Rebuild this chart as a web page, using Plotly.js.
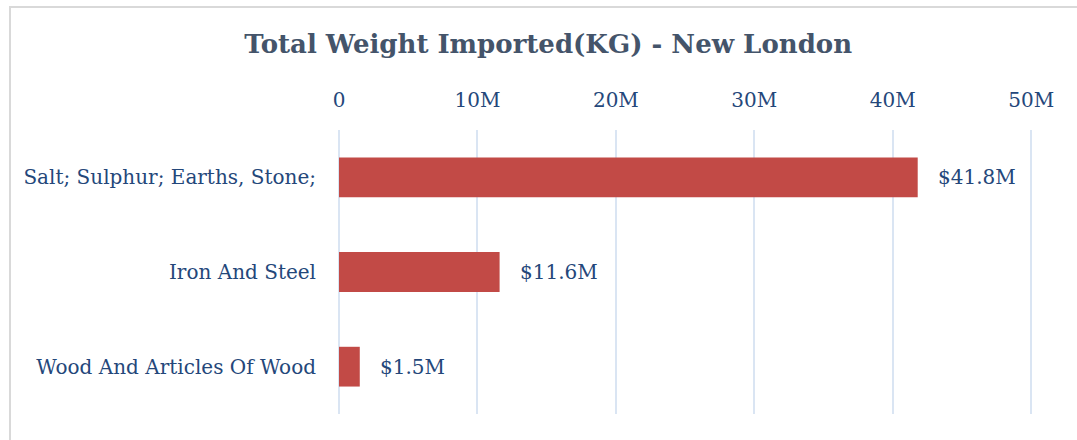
<!DOCTYPE html>
<html>
<head>
<meta charset="utf-8">
<script src="https://cdn.plot.ly/plotly-3.0.1.min.js"></script>
<style>
  body { margin: 0; background: #fff; }
  #frame { position: absolute; left: 9px; top: 6px; width: 1100px; height: 460px; border: 2px solid #d9d9d9; }
  #chart { position: absolute; left: 0; top: 0; width: 1077px; height: 440px; }
</style>
</head>
<body>
<div id="frame"></div>
<div id="chart"></div>
<script>
var categories = ['Salt; Sulphur; Earths, Stone;', 'Iron And Steel', 'Wood And Articles Of Wood'];
var weights = [41800000, 11600000, 1500000];
var labels = ['$41.8M', '$11.6M', '$1.5M'];

var blue = '#24477a';
var grid = '#dae5f3';
var font = 'DejaVu Serif';

var bars = {
    type: 'bar',
    orientation: 'h',
    y: categories,
    x: weights,
    marker: {color: '#c24a46'},
    width: 0.42,
    hoverinfo: 'none'
};

var notes = categories.map(function (c, i) {
    return {x: weights[i], y: c, text: labels[i], showarrow: false,
        xanchor: 'left', xshift: 18, font: {family: font, size: 20, color: blue}};
});

var layout = {
    title: {text: '<b>Total Weight Imported(KG) - New London</b>', x: 0.509, xref: 'container',
        y: 0.9, yref: 'container', yanchor: 'middle',
        font: {family: font, size: 26, color: '#44546a'}},
    margin: {l: 339, r: 43, t: 130, b: 26},
    showlegend: false,
    xaxis: {side: 'top', range: [0, 50200000], tickvals: [0, 10000000, 20000000, 30000000, 40000000, 50000000],
        ticktext: ['0', '10M', '20M', '30M', '40M', '50M'], showgrid: true, gridcolor: grid, gridwidth: 2,
        zeroline: true, zerolinecolor: grid, zerolinewidth: 2,
        ticklabelstandoff: 18, tickfont: {family: font, size: 20, color: blue}, fixedrange: true},
    yaxis: {autorange: 'reversed', showgrid: false, ticklabelstandoff: 22,
        tickfont: {family: font, size: 20, color: blue}},
    annotations: notes,
    paper_bgcolor: 'rgba(0,0,0,0)',
    plot_bgcolor: 'rgba(0,0,0,0)'
};

Plotly.newPlot('chart', [bars], layout, {displayModeBar: false, staticPlot: true});
</script>
</body>
</html>
